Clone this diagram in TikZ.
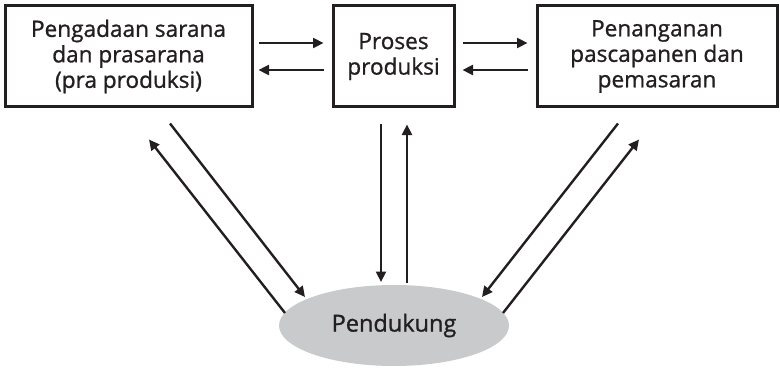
\documentclass[tikz,border=0pt]{standalone}
\usepackage{fontspec}
\setmainfont{Open Sans}
\newfontfamily\heavyfont{Open Sans}[FakeBold=1.0]
\usetikzlibrary{arrows.meta,calc,shapes.geometric}
\definecolor{ink}{HTML}{231F20}
\definecolor{ellfill}{HTML}{C9CACB}
\begin{document}
\begin{tikzpicture}[x=1pt,y=-1pt,
  boxnode/.style={draw=ink,line width=3pt,minimum height=101pt,inner sep=0pt,align=center,
    font=\heavyfont\fontsize{22.6}{25.5}\selectfont,text=ink},
  arr/.style={draw=ink,line width=2.4pt,-{Triangle[length=10.5pt,width=10pt]}}]
\useasboundingbox (0,0) rectangle (780,369);
\node[boxnode,minimum width=247pt] (L) at (128.5,56.5) {Pengadaan sarana\\dan prasarana\\(pra produksi)};
\node[boxnode,minimum width=121pt] (M) at (393.5,56.5) {Proses\\produksi};
\node[boxnode,minimum width=240pt] (R) at (657,56.5) {Penanganan\\pascapanen dan\\pemasaran};
\node[ellipse,fill=ellfill,minimum width=230pt,minimum height=81pt,inner sep=0pt,
  font=\heavyfont\fontsize{23.5}{27}\selectfont,text=ink] (E) at (394,325.5) {Pendukung};
% horizontal
\draw[arr] ($(L.east)+(5,-13.5)$) -- ($(M.west)+(-8,-13.5)$);
\draw[arr] ($(M.west)+(-8,13.5)$) -- ($(L.east)+(5,13.5)$);
\draw[arr] ($(M.east)+(7,-13.5)$) -- ($(R.west)+(-8,-13.5)$);
\draw[arr] ($(R.west)+(-8,13.5)$) -- ($(M.east)+(7,13.5)$);
% vertical
\draw[arr] ($(M.south)+(-12.5,16)$) -- ($(E.center)+(-13,-43.5)$);
\draw[arr] ($(E.center)+(13,-42.5)$) -- ($(M.south)+(13.5,16)$);
% left diagonals
\draw[arr] ($(L.south)+(41.5,15)$) -- ($(E.center)+(-89,-28.5)$);
\draw[arr] ($(E.center)+(-109,-12.5)$) -- ($(L.south)+(20.5,31)$);
% right diagonals
\draw[arr] ($(R.south)+(-39,15)$) -- ($(E.center)+(88,-28.5)$);
\draw[arr] ($(E.center)+(109,-12.5)$) -- ($(R.south)+(-18,31)$);
\end{tikzpicture}
\end{document}
